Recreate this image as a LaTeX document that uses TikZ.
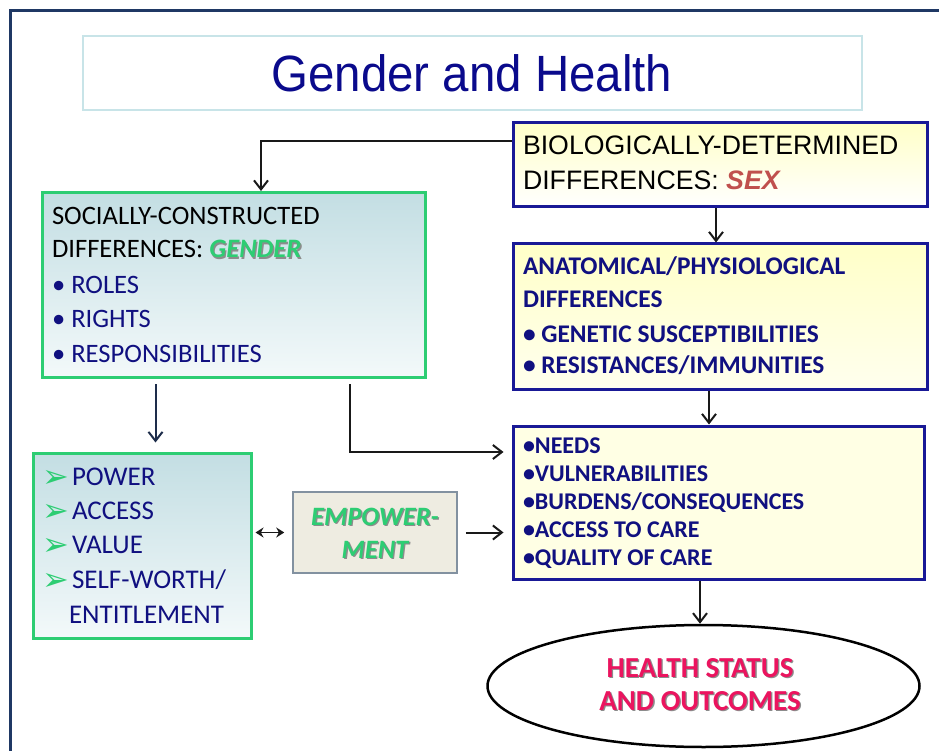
\documentclass[tikz,border=0pt]{standalone}
\usepackage{fontspec}
\setmainfont{Carlito}
\newfontfamily\arial{Liberation Sans}
\newfontfamily\dejavu{DejaVu Sans}
\usetikzlibrary{arrows.meta,shapes.geometric}
\definecolor{navy}{RGB}{16,16,128}
\definecolor{boxblue}{RGB}{25,25,150}
\definecolor{grn}{RGB}{45,205,115}
\definecolor{framec}{RGB}{31,56,100}
\definecolor{sexred}{RGB}{192,80,77}
\definecolor{hpink}{RGB}{235,20,95}
\definecolor{arrc}{RGB}{25,25,25}
\newcommand\fs[1]{\fontsize{#1}{#1}\selectfont}
\newcommand\shd[2]{\makebox[0pt][l]{\kern1.3pt\raisebox{-1.3pt}{\color{black!45}#2}}{\color{#1}#2}}
\newcommand\arw{\makebox[27pt][l]{\kern-2pt\raisebox{-2pt}{\dejavu\fs{32}\color{grn}➢}}}
\begin{document}
\begin{tikzpicture}[x=1pt,y=-1pt,
  ln/.style={anchor=base west,inner sep=0pt,outer sep=0pt},
  lnc/.style={anchor=base,inner sep=0pt,outer sep=0pt},
  bluebox/.style={draw=boxblue,line width=3pt,inner sep=0pt},
  greenbox/.style={draw=grn,line width=3pt,inner sep=0pt,top color={rgb,255:red,195;green,222;blue,227},bottom color={rgb,255:red,243;green,249;blue,250}},
  arr/.style={draw=arrc,line width=2pt,-{Straight Barb[length=9pt,width=14pt]}},
  darr/.style={draw=arrc,line width=1.8pt,{Stealth[length=8pt,width=10pt]}-{Stealth[length=8pt,width=10pt]}}
]
\useasboundingbox (0,0) rectangle (939,751);
% frame
\draw[framec,line width=3pt] (945,11) -- (10,11) -- (10,760);

% title
\node[draw={rgb,255:red,200;green,228;blue,232},line width=2pt,fill=white,minimum width=779pt,minimum height=74pt,inner sep=0pt] (titlebox) at (472.5,73) {};
\node[lnc,text={rgb,255:red,10;green,10;blue,140},font=\arial\fs{51}] (title) at (472,92) {\scalebox{0.93}[1]{Gender and Health}};

% biologically determined
\node[bluebox,top color={rgb,255:red,255;green,255;blue,200},bottom color=white,minimum width=414pt,minimum height=84pt] (bio) at (720,165) {};
\node[ln,font=\arial\fs{26.7}] (bio1) at (523,155) {BIOLOGICALLY-DETERMINED};
\node[ln,font=\arial\fs{26.7}] (bio2) at (523,190) {DIFFERENCES: {\bfseries\itshape\color{sexred}SEX}};

% socially constructed
\node[greenbox,minimum width=383pt,minimum height=185pt] (soc) at (233.5,285) {};
\node[ln,font=\fs{26.6}] (soc1) at (52,225) {SOCIALLY-CONSTRUCTED};
\node[ln,font=\fs{26.6}] (soc2) at (52,258) {DIFFERENCES: \shd{grn}{\bfseries\itshape GENDER}};
\node[ln,font=\fs{26.6},text=navy] (soc3) at (52,293) {• ROLES};
\node[ln,font=\fs{26.6},text=navy] (soc4) at (52,327) {• RIGHTS};
\node[ln,font=\fs{26.6},text=navy] (soc5) at (52,362) {• RESPONSIBILITIES};

% anatomical
\node[bluebox,top color={rgb,255:red,255;green,255;blue,200},bottom color={rgb,255:red,255;green,255;blue,238},minimum width=414pt,minimum height=145pt] (anat) at (720,316.5) {};
\node[ln,font=\bfseries\fs{25.4},text=navy] (an1) at (523,275) {ANATOMICAL/PHYSIOLOGICAL};
\node[ln,font=\bfseries\fs{25.4},text=navy] (an2) at (523,307) {DIFFERENCES};
\node[ln,font=\bfseries\fs{25.4},text=navy] (an3) at (523,342) {• GENETIC SUSCEPTIBILITIES};
\node[ln,font=\bfseries\fs{25.4},text=navy] (an4) at (523,373) {• RESISTANCES/IMMUNITIES};

% needs
\node[bluebox,fill={rgb,255:red,255;green,255;blue,228},minimum width=411pt,minimum height=153pt] (needs) at (718.5,502.5) {};
\node[ln,font=\bfseries\fs{24},text=navy] (nd1) at (523,453) {•NEEDS};
\node[ln,font=\bfseries\fs{24},text=navy] (nd2) at (523,481) {•VULNERABILITIES};
\node[ln,font=\bfseries\fs{24},text=navy] (nd3) at (523,509) {•BURDENS/CONSEQUENCES};
\node[ln,font=\bfseries\fs{24},text=navy] (nd4) at (523,537) {•ACCESS TO CARE};
\node[ln,font=\bfseries\fs{24},text=navy] (nd5) at (523,565) {•QUALITY OF CARE};

% health status ellipse
\node[ellipse,draw=black,line width=2.5pt,fill=white,minimum width=432pt,minimum height=122pt,inner sep=0pt] (health) at (703.5,686) {};
\node[lnc,font=\bfseries\fs{29}] (h1) at (700,677) {\shd{hpink}{HEALTH STATUS}};
\node[lnc,font=\bfseries\fs{29}] (h2) at (700,710) {\shd{hpink}{AND OUTCOMES}};

% power box
\node[greenbox,minimum width=218pt,minimum height=185pt] (power) at (142,545.5) {};
\node[ln,font=\fs{27},text=navy] (pw1) at (45,485) {\arw POWER};
\node[ln,font=\fs{27},text=navy] (pw2) at (45,519) {\arw ACCESS};
\node[ln,font=\fs{27},text=navy] (pw3) at (45,553) {\arw VALUE};
\node[ln,font=\fs{27},text=navy] (pw4) at (45,588) {\arw SELF-WORTH/};
\node[ln,font=\fs{27},text=navy] (pw5) at (69,623) {ENTITLEMENT};

% empowerment
\node[draw={rgb,255:red,130;green,145;blue,160},line width=1.5pt,fill={rgb,255:red,238;green,236;blue,225},minimum width=164pt,minimum height=81pt,inner sep=0pt] (emp) at (375,532.5) {};
\node[lnc,font=\bfseries\itshape\fs{26.5}] (e1) at (375,525) {\shd{grn}{EMPOWER-}};
\node[lnc,font=\bfseries\itshape\fs{26.5}] (e2) at (375,558) {\shd{grn}{MENT}};

% connectors
\draw[arr] ([yshift=24pt]bio.west) -| ([xshift=27.5pt]soc.north);
\draw[arr] ([xshift=-4pt]bio.south) -- ([xshift=-4pt]anat.north);
\draw[arr] ([xshift=-11pt]anat.south) -- ([xshift=-11pt]anat.south |- needs.north);
\draw[arr] ([xshift=-18.5pt]needs.south) -- ([xshift=-18.5pt]needs.south |- health.north);
\draw[arr,draw={rgb,255:red,30;green,45;blue,75},shorten <=5pt,shorten >=9pt] ([xshift=-78pt]soc.south) -- ([xshift=-78pt]soc.south |- power.north);
\draw[arr,shorten <=5pt,shorten >=8pt] ([xshift=116.5pt]soc.south) |- ([yshift=50.5pt]needs.west);
\draw[darr,shorten <=3pt,shorten >=8pt] (power.east |- emp.west) -- (emp.west);
\draw[arr,shorten <=8pt,shorten >=8pt] (emp.east) -- (emp.east -| needs.west);
\end{tikzpicture}
\end{document}
